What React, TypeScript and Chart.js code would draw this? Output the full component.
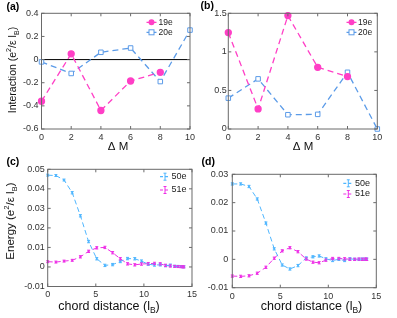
import React, { useEffect, useRef } from "react";
import { Chart, registerables } from "chart.js";
Chart.register(...registerables);

const FONT = '"Liberation Sans", Arial, Helvetica, sans-serif';
const PINK = "#ff3fc6";
const BLUE_AB = "#5b9be8";
const BLUE_CD = "#4fb6ff";
const MAG_CD = "#ee2fe6";

// ---- Panel (a): interaction vs ΔM ----
const dmA19 = [0, 2, 4, 6, 8];
const intA19 = [-0.36, 0.05, -0.44, -0.185, -0.11];
const dmA20 = [0, 2, 4, 6, 8, 10];
const intA20 = [-0.02, -0.12, 0.063, 0.1, -0.19, 0.255];

// ---- Panel (b) ----
const dmB19 = [0, 2, 4, 6, 8];
const intB19 = [1.25, 0.26, 1.47, 0.8, 0.68];
const dmB20 = [0, 2, 4, 6, 8, 10];
const intB20 = [0.4, 0.65, 0.185, 0.19, 0.735, 0.0];

// ---- Panel (c): energy vs chord distance ----
const distC = [0, 0.85, 1.7, 2.55, 3.4, 4.25, 5.1, 5.95, 6.75, 7.55, 8.3, 9.05, 9.75, 10.45, 11.1, 11.7, 12.25, 12.75, 13.2, 13.55, 13.85, 14.05, 14.15];
const enC50 = [0.047, 0.0468, 0.0445, 0.038, 0.0262, 0.013, 0.0042, 0.0008, 0.0012, 0.0028, 0.0043, 0.0042, 0.003, 0.0014, 0.001, 0.0011, 0.0007, 0.0009, 0.0004, 0.0003, 0.0002, 0.0001, 0.0001];
const errC50 = [0.0005, 0.0005, 0.0005, 0.0006, 0.0006, 0.0006, 0.0006, 0.0006, 0.0006, 0.0006, 0.0006, 0.0006, 0.0006, 0.0006, 0.0006, 0.0006, 0.0006, 0.0006, 0.0005, 0.0005, 0.0005, 0.0005, 0.0005];
const enC51 = [0.0027, 0.0025, 0.003, 0.0034, 0.0052, 0.008, 0.0098, 0.01, 0.0073, 0.0042, 0.0016, 0.0011, 0.0015, 0.0017, 0.0018, 0.0016, 0.0008, 0.0005, 0.0003, 0.0002, 0.0001, 0.0001, 0.0];
const errC51 = [0.0005, 0.0005, 0.0005, 0.0005, 0.0006, 0.0006, 0.0006, 0.0006, 0.0006, 0.0006, 0.0006, 0.0006, 0.0006, 0.0006, 0.0006, 0.0006, 0.0006, 0.0006, 0.0005, 0.0005, 0.0005, 0.0005, 0.0005];

// ---- Panel (d) ----
const distD = [0, 0.87, 1.74, 2.6, 3.5, 4.37, 5.2, 6.0, 6.84, 7.7, 8.4, 9.05, 9.75, 10.45, 11.1, 11.7, 12.25, 12.75, 13.2, 13.55, 13.85, 14.0];
const enD50 = [0.0266, 0.0266, 0.0257, 0.0213, 0.0128, 0.0037, -0.002, -0.0034, -0.0022, 0.0005, 0.0009, 0.0012, 0.0002, -0.0004, 0.0, -0.0004, 0.0002, 0.0, 0.0, 0.0001, 0.0, 0.0001];
const errD50 = [0.0004, 0.0004, 0.0004, 0.0004, 0.0004, 0.0004, 0.0004, 0.0004, 0.0004, 0.0004, 0.0004, 0.0004, 0.0004, 0.0004, 0.0004, 0.0004, 0.0004, 0.0004, 0.0004, 0.0004, 0.0004, 0.0004];
const enD51 = [-0.0059, -0.006, -0.0058, -0.0049, -0.0028, 0.0004, 0.003, 0.0041, 0.0027, 0.0001, -0.001, -0.0012, -0.0003, 0.0003, 0.0003, 0.0002, 0.0, 0.0, 0.0001, 0.0, 0.0001, 0.0];
const errD51 = [0.0004, 0.0004, 0.0004, 0.0004, 0.0004, 0.0004, 0.0004, 0.0004, 0.0004, 0.0004, 0.0004, 0.0004, 0.0004, 0.0004, 0.0004, 0.0004, 0.0004, 0.0004, 0.0004, 0.0004, 0.0004, 0.0004];

// ---- ticks ----
const xTicksAB = [0, 2, 4, 6, 8, 10];
const xLabelsAB = ["0", "2", "4", "6", "8", "10"];
const yTicksA = [-0.6, -0.4, -0.2, 0, 0.2, 0.4];
const yLabelsA = ["-0.6", "-0.4", "-0.2", "0", "0.2", "0.4"];
const yTicksB = [0, 0.5, 1, 1.5];
const yLabelsB = ["0", "0.5", "1", "1.5"];
const xTicksCD = [0, 5, 10, 15];
const xLabelsCD = ["0", "5", "10", "15"];
const yTicksC = [-0.01, 0, 0.01, 0.02, 0.03, 0.04, 0.05];
const yLabelsC = ["-0.01", "0", "0.01", "0.02", "0.03", "0.04", "0.05"];
const yTicksD = [-0.01, 0, 0.01, 0.02, 0.03];
const yLabelsD = ["-0.01", "0", "0.01", "0.02", "0.03"];

const seriesA = ["19e", "20e"];
const seriesC = ["50e", "51e"];

type Seg = { t: string; s?: "sup" | "sub" };
const pts = (xs: number[], ys: number[]) => xs.map((x, i) => ({ x, y: ys[i] }));

function drawRich(ctx: CanvasRenderingContext2D, segs: Seg[], cx: number, cy: number, size: number, rotate: boolean) {
  ctx.save();
  ctx.translate(cx, cy);
  if (rotate) ctx.rotate(-Math.PI / 2);
  const small = size * 0.68;
  const widths = segs.map((sg) => {
    ctx.font = `${sg.s ? small : size}px ${FONT}`;
    return ctx.measureText(sg.t).width;
  });
  const total = widths.reduce((a, b) => a + b, 0);
  let x = -total / 2;
  ctx.textBaseline = "middle";
  ctx.textAlign = "left";
  ctx.fillStyle = "#111";
  segs.forEach((sg, i) => {
    ctx.font = `${sg.s ? small : size}px ${FONT}`;
    const dy = sg.s === "sup" ? -size * 0.38 : sg.s === "sub" ? size * 0.35 : 0;
    ctx.fillText(sg.t, x, dy);
    x += widths[i];
  });
  ctx.restore();
}

interface LegendRow { y: number; label: string; color: string; marker: "circle" | "square" | "err" }
interface PanelCfg {
  left: number; top: number; width: number; height: number;
  area: { l: number; t: number; r: number; b: number };
  xMin: number; xMax: number; yMin: number; yMax: number;
  xTicks: number[]; xLabels: string[]; yTicks: number[]; yLabels: string[];
  yPad: number;
  datasets: any[];
  zeroLine?: boolean;
  legend: { x1: number; x2: number; tx: number; size: number; dash: number[]; rows: LegendRow[] };
  xTitle: { segs: Seg[]; x: number; y: number; size: number };
  yTitle?: { segs: Seg[]; x: number; y: number; size: number };
  label: { text: string; x: number; y: number };
}

const abDatasets = (x19: number[], y19: number[], x20: number[], y20: number[]) => [
  {
    label: seriesA[0], data: pts(x19, y19), showLine: true, borderColor: PINK, borderWidth: 1.3,
    borderDash: [6, 4], pointStyle: "circle", pointRadius: 3, pointBackgroundColor: PINK,
    pointBorderColor: PINK, clip: false,
  },
  {
    label: seriesA[1], data: pts(x20, y20), showLine: true, borderColor: BLUE_AB, borderWidth: 1.3,
    borderDash: [6, 4], pointStyle: "rect", pointRadius: 3.2, pointBackgroundColor: "#ffffff",
    pointBorderColor: BLUE_AB, pointBorderWidth: 1, clip: false,
  },
];
const cdDatasets = (xs: number[], y50: number[], e50: number[], xs2: number[], y51: number[], e51: number[]) => [
  {
    label: seriesC[0], data: pts(xs, y50), errs: e50, showLine: true, borderColor: BLUE_CD, borderWidth: 1,
    borderDash: [5, 3], pointStyle: "rect", pointRadius: 1.2, pointBackgroundColor: BLUE_CD,
    pointBorderColor: BLUE_CD, pointBorderWidth: 0, clip: false,
  },
  {
    label: seriesC[1], data: pts(xs2, y51), errs: e51, showLine: true, borderColor: MAG_CD, borderWidth: 1,
    borderDash: [5, 3], pointStyle: "rect", pointRadius: 1.2, pointBackgroundColor: MAG_CD,
    pointBorderColor: MAG_CD, pointBorderWidth: 0, clip: false,
  },
];

const interactionTitle: Seg[] = [{ t: "Interaction (e" }, { t: "2", s: "sup" }, { t: "/\u03b5 l" }, { t: "B", s: "sub" }, { t: ")" }];
const energyTitle: Seg[] = [{ t: "Energy (e" }, { t: "2", s: "sup" }, { t: "/\u03b5 l" }, { t: "B", s: "sub" }, { t: ")" }];
const chordTitle: Seg[] = [{ t: "chord distance (l" }, { t: "B", s: "sub" }, { t: ")" }];
const dmTitle: Seg[] = [{ t: "\u0394 M" }];

const panels: PanelCfg[] = [
  {
    left: 0, top: 0, width: 198, height: 155,
    area: { l: 41.5, t: 13.3, r: 191.7, b: 129 },
    xMin: 0, xMax: 10, yMin: -0.6, yMax: 0.4,
    xTicks: xTicksAB, xLabels: xLabelsAB, yTicks: yTicksA, yLabels: yLabelsA, yPad: 3,
    datasets: abDatasets(dmA19, intA19, dmA20, intA20), zeroLine: true,
    legend: { x1: 146.5, x2: 156.5, tx: 158.5, size: 8.5, dash: [4, 2], rows: [
      { y: 22.3, label: seriesA[0], color: PINK, marker: "circle" },
      { y: 32.3, label: seriesA[1], color: BLUE_AB, marker: "square" },
    ] },
    xTitle: { segs: dmTitle, x: 118, y: 147, size: 11.5 },
    yTitle: { segs: interactionTitle, x: 13, y: 70, size: 10.5 },
    label: { text: "(a)", x: 6.5, y: 7.5 },
  },
  {
    left: 198, top: 0, width: 199, height: 155,
    area: { l: 30.3, t: 13.3, r: 179.3, b: 129 },
    xMin: 0, xMax: 10, yMin: 0, yMax: 1.5,
    xTicks: xTicksAB, xLabels: xLabelsAB, yTicks: yTicksB, yLabels: yLabelsB, yPad: 1.5,
    datasets: abDatasets(dmB19, intB19, dmB20, intB20),
    legend: { x1: 148.5, x2: 158.5, tx: 160, size: 8.5, dash: [4, 2], rows: [
      { y: 22.3, label: seriesA[0], color: PINK, marker: "circle" },
      { y: 32.3, label: seriesA[1], color: BLUE_AB, marker: "square" },
    ] },
    xTitle: { segs: dmTitle, x: 105, y: 147, size: 11.5 },
    label: { text: "(b)", x: 2.5, y: 6.5 },
  },
  {
    left: 0, top: 155, width: 200, height: 163,
    area: { l: 47.7, t: 14.3, r: 195.7, b: 131.5 },
    xMin: 0, xMax: 15, yMin: -0.01, yMax: 0.05,
    xTicks: xTicksCD, xLabels: xLabelsCD, yTicks: yTicksC, yLabels: yLabelsC, yPad: 3,
    datasets: cdDatasets(distC, enC50, errC50, distC, enC51, errC51),
    legend: { x1: 160, x2: 170, tx: 171.5, size: 9, dash: [3, 2], rows: [
      { y: 21.7, label: seriesC[0], color: BLUE_CD, marker: "err" },
      { y: 35, label: seriesC[1], color: MAG_CD, marker: "err" },
    ] },
    xTitle: { segs: chordTitle, x: 109, y: 151.7, size: 12.5 },
    yTitle: { segs: energyTitle, x: 11, y: 66, size: 11.5 },
    label: { text: "(c)", x: 6.5, y: 7 },
  },
  {
    left: 200, top: 155, width: 197, height: 163,
    area: { l: 32.3, t: 19.3, r: 176.3, b: 132.7 },
    xMin: 0, xMax: 15, yMin: -0.01, yMax: 0.03,
    xTicks: xTicksCD, xLabels: xLabelsCD, yTicks: yTicksD, yLabels: yLabelsD, yPad: 4,
    datasets: cdDatasets(distD, enD50, errD50, distD, enD51, errD51),
    legend: { x1: 143.3, x2: 153.3, tx: 155, size: 9, dash: [3, 2], rows: [
      { y: 28.3, label: seriesC[0], color: BLUE_CD, marker: "err" },
      { y: 39, label: seriesC[1], color: MAG_CD, marker: "err" },
    ] },
    xTitle: { segs: chordTitle, x: 111.5, y: 151.7, size: 12.5 },
    label: { text: "(d)", x: 1.5, y: 7 },
  },
];

function Panel({ cfg }: { cfg: PanelCfg }) {
  const ref = useRef<HTMLCanvasElement | null>(null);
  useEffect(() => {
    if (!ref.current) return;
    const { area, width, height } = cfg;
    const deco = {
      id: "deco",
      beforeDatasetsDraw(chart: any) {
        if (!cfg.zeroLine) return;
        const ctx = chart.ctx as CanvasRenderingContext2D;
        const y0 = chart.scales.y.getPixelForValue(0);
        ctx.save();
        ctx.strokeStyle = "#000";
        ctx.lineWidth = 1;
        ctx.beginPath();
        ctx.moveTo(chart.chartArea.left, y0);
        ctx.lineTo(chart.chartArea.right, y0);
        ctx.stroke();
        ctx.restore();
      },
      afterDatasetsDraw(chart: any) {
        const ctx = chart.ctx as CanvasRenderingContext2D;
        const ys = chart.scales.y;
        chart.data.datasets.forEach((ds: any, i: number) => {
          if (!ds.errs) return;
          const meta = chart.getDatasetMeta(i);
          ctx.save();
          ctx.strokeStyle = ds.borderColor;
          ctx.lineWidth = 1;
          meta.data.forEach((el: any, j: number) => {
            const d = ds.data[j];
            const e = ds.errs[j];
            const yt = ys.getPixelForValue(d.y + e);
            const yb = ys.getPixelForValue(d.y - e);
            ctx.beginPath();
            ctx.moveTo(el.x, yt); ctx.lineTo(el.x, yb);
            ctx.moveTo(el.x - 1.5, yt); ctx.lineTo(el.x + 1.5, yt);
            ctx.moveTo(el.x - 1.5, yb); ctx.lineTo(el.x + 1.5, yb);
            ctx.stroke();
          });
          ctx.restore();
        });
      },
      afterDraw(chart: any) {
        const ctx = chart.ctx as CanvasRenderingContext2D;
        const { left: L, right: R, top: T, bottom: B } = chart.chartArea;
        const xs = chart.scales.x, ys = chart.scales.y;
        ctx.save();
        // frame
        ctx.strokeStyle = "#6a6a6a";
        ctx.lineWidth = 1;
        ctx.strokeRect(L, T, R - L, B - T);
        // inward ticks on all sides
        ctx.beginPath();
        cfg.xTicks.forEach((v) => {
          const px = xs.getPixelForValue(v);
          ctx.moveTo(px, B); ctx.lineTo(px, B - 3);
          ctx.moveTo(px, T); ctx.lineTo(px, T + 3);
        });
        cfg.yTicks.forEach((v) => {
          const py = ys.getPixelForValue(v);
          ctx.moveTo(L, py); ctx.lineTo(L + 3, py);
          ctx.moveTo(R, py); ctx.lineTo(R - 3, py);
        });
        ctx.stroke();
        // legend
        const lg = cfg.legend;
        lg.rows.forEach((row) => {
          ctx.save();
          ctx.strokeStyle = row.color;
          ctx.lineWidth = 1.2;
          ctx.setLineDash(lg.dash);
          ctx.beginPath();
          ctx.moveTo(lg.x1, row.y); ctx.lineTo(lg.x2, row.y);
          ctx.stroke();
          ctx.setLineDash([]);
          const mx = (lg.x1 + lg.x2) / 2;
          ctx.lineWidth = 1;
          if (row.marker === "circle") {
            ctx.fillStyle = row.color;
            ctx.beginPath(); ctx.arc(mx, row.y, 3, 0, Math.PI * 2); ctx.fill();
          } else if (row.marker === "square") {
            ctx.fillStyle = "#fff";
            ctx.fillRect(mx - 2.5, row.y - 2.5, 5, 5);
            ctx.strokeRect(mx - 2.5, row.y - 2.5, 5, 5);
          } else {
            ctx.beginPath();
            ctx.moveTo(mx, row.y - 3.5); ctx.lineTo(mx, row.y + 3.5);
            ctx.moveTo(mx - 1.5, row.y - 3.5); ctx.lineTo(mx + 1.5, row.y - 3.5);
            ctx.moveTo(mx - 1.5, row.y + 3.5); ctx.lineTo(mx + 1.5, row.y + 3.5);
            ctx.stroke();
          }
          ctx.fillStyle = "#222";
          ctx.font = `${lg.size}px ${FONT}`;
          ctx.textAlign = "left";
          ctx.textBaseline = "middle";
          ctx.fillText(row.label, lg.tx, row.y);
          ctx.restore();
        });
        // titles
        drawRich(ctx, cfg.xTitle.segs, cfg.xTitle.x, cfg.xTitle.y, cfg.xTitle.size, false);
        if (cfg.yTitle) drawRich(ctx, cfg.yTitle.segs, cfg.yTitle.x, cfg.yTitle.y, cfg.yTitle.size, true);
        // panel label
        ctx.fillStyle = "#000";
        ctx.font = `bold 10.5px ${FONT}`;
        ctx.textAlign = "left";
        ctx.textBaseline = "middle";
        ctx.fillText(cfg.label.text, cfg.label.x, cfg.label.y);
        ctx.restore();
      },
    };
    const tickFont = { family: FONT, size: 9 };
    const chart = new Chart(ref.current, {
      type: "scatter",
      data: { datasets: cfg.datasets },
      options: {
        animation: false,
        responsive: false,
        maintainAspectRatio: false,
        layout: { padding: { left: 0, top: area.t, right: width - area.r, bottom: 0 } },
        plugins: { legend: { display: false }, tooltip: { enabled: false } },
        scales: {
          x: {
            type: "linear", min: cfg.xMin, max: cfg.xMax,
            afterBuildTicks: (s: any) => { s.ticks = cfg.xTicks.map((v) => ({ value: v })); },
            afterFit: (s: any) => { s.height = height - area.b; },
            ticks: { callback: (_v: any, i: number) => cfg.xLabels[i], font: tickFont, color: "#333", padding: 3, maxRotation: 0, autoSkip: false },
            grid: { display: false, drawTicks: false },
            border: { display: false },
          },
          y: {
            type: "linear", min: cfg.yMin, max: cfg.yMax,
            afterBuildTicks: (s: any) => { s.ticks = cfg.yTicks.map((v) => ({ value: v })); },
            afterFit: (s: any) => { s.width = area.l; },
            ticks: { callback: (_v: any, i: number) => cfg.yLabels[i], font: tickFont, color: "#333", padding: cfg.yPad, autoSkip: false },
            grid: { display: false, drawTicks: false },
            border: { display: false },
          },
        },
      } as any,
      plugins: [deco],
    });
    return () => chart.destroy();
  }, [cfg]);
  return (
    <canvas
      ref={ref}
      width={cfg.width}
      height={cfg.height}
      style={{ position: "absolute", left: cfg.left, top: cfg.top, width: cfg.width, height: cfg.height }}
    />
  );
}

export default function App() {
  return (
    <div style={{ position: "absolute", left: 0, top: 0, width: 397, height: 318, background: "#fff" }}>
      {panels.map((p, i) => (
        <Panel key={i} cfg={p} />
      ))}
    </div>
  );
}
